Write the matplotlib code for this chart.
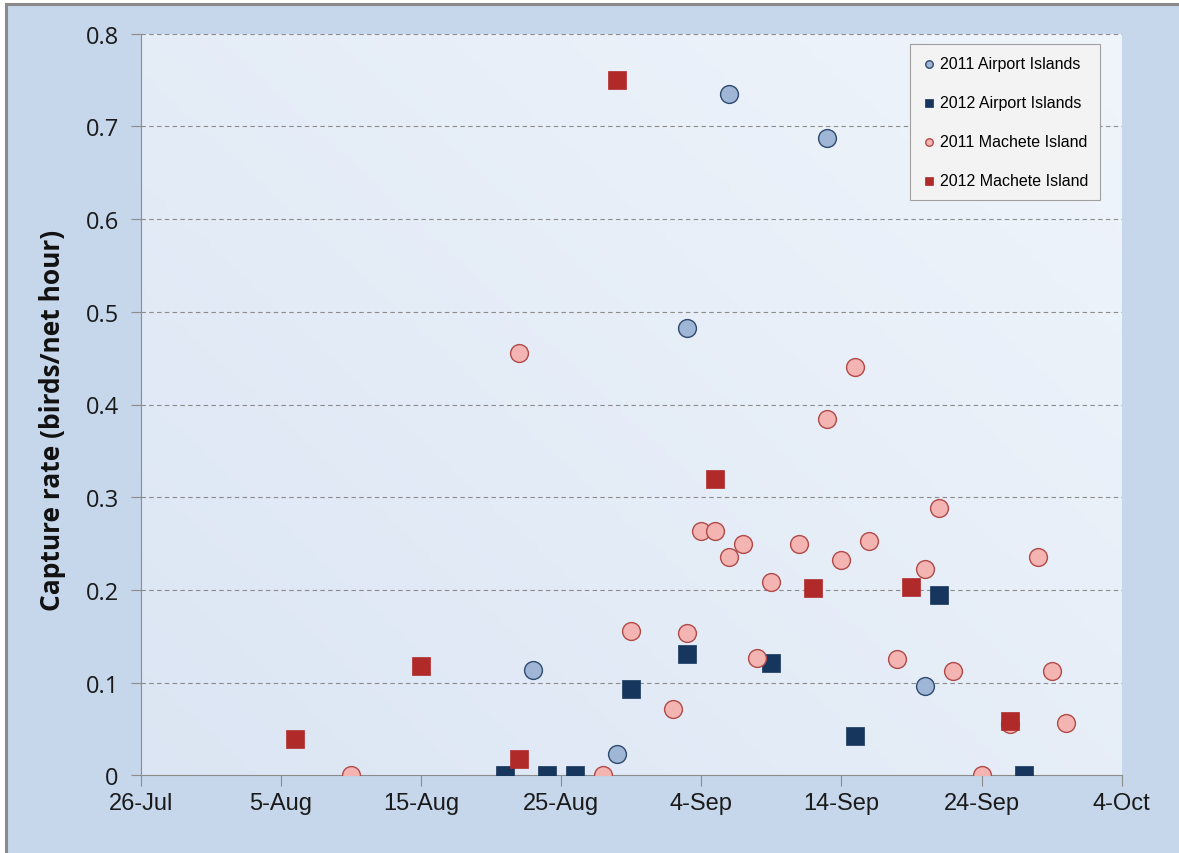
import numpy as np
import pandas as pd
import matplotlib
matplotlib.use("Agg")
import matplotlib.pyplot as plt
import matplotlib.dates as mdates
from matplotlib.patches import Rectangle

# Capture rates by date; both seasons share one calendar axis (year fixed to 2012)
air11_dates = ["08-23", "08-29", "09-03", "09-06", "09-13", "09-20"]
air11_rate = [0.114, 0.023, 0.483, 0.735, 0.687, 0.096]

air12_dates = ["08-21", "08-24", "08-26", "08-30", "09-03", "09-09",
               "09-15", "09-21", "09-27"]
air12_rate = [0.0, 0.0, 0.0, 0.093, 0.131, 0.121, 0.042, 0.194, 0.0]

mach11_dates = ["08-10", "08-22", "08-28", "08-30", "09-02", "09-03", "09-04",
                "09-05", "09-06", "09-07", "09-08", "09-09", "09-11", "09-13",
                "09-14", "09-15", "09-16", "09-18", "09-20", "09-21", "09-22",
                "09-24", "09-26", "09-28", "09-29", "09-30"]
mach11_rate = [0.0, 0.456, 0.0, 0.156, 0.072, 0.153, 0.264, 0.264, 0.236,
               0.249, 0.126, 0.209, 0.249, 0.384, 0.232, 0.440, 0.253, 0.125,
               0.223, 0.288, 0.112, 0.0, 0.055, 0.236, 0.112, 0.056]

mach12_dates = ["08-06", "08-15", "08-22", "08-29", "09-05", "09-12",
                "09-19", "09-26"]
mach12_rate = [0.039, 0.118, 0.018, 0.750, 0.320, 0.202, 0.203, 0.059]

x_ticks = ["07-26", "08-05", "08-15", "08-25", "09-04", "09-14", "09-24", "10-04"]
y_ticks = [0, 0.1, 0.2, 0.3, 0.4, 0.5, 0.6, 0.7, 0.8]


def to_dates(md):
    return pd.to_datetime(["2012-" + s for s in md])


W, H = 1179, 854
fig = plt.figure(figsize=(W / 100, H / 100), dpi=100, facecolor="white")

# chart area background with a thin grey frame on the top and left
fig.patches.append(Rectangle((6 / W, 0), 1 - 6 / W, 1 - 5 / H, transform=fig.transFigure,
                             facecolor="#c6d6eb", edgecolor="none", zorder=-10))
fig.add_artist(plt.Line2D([6 / W, 6 / W], [0, 1 - 5 / H], color="#8a8a8a", lw=2.2))
fig.add_artist(plt.Line2D([6 / W, 1], [1 - 5 / H, 1 - 5 / H], color="#8a8a8a", lw=2.2))

left, right = 141 / W, 1121.6 / W
bottom, top = 1 - 776.3 / H, 1 - 34.7 / H
ax = fig.add_axes([left, bottom, right - left, top - bottom])
ax.patch.set_alpha(0)

# soft gradient in the plot area
gy, gx = np.mgrid[0:1:200j, 0:1:200j]
grad = 0.55 * gx + 0.45 * (1 - gy)
c0 = np.array([0.86, 0.90, 0.955])
c1 = np.array([0.94, 0.96, 0.985])
img = c0[None, None, :] * (1 - grad[..., None]) + c1[None, None, :] * grad[..., None]
ax.imshow(img, extent=[0, 1, 0, 1], transform=ax.transAxes, aspect="auto",
          zorder=0, origin="upper")

ax.scatter(to_dates(air11_dates), air11_rate, s=165, marker="o", facecolor="#9fb6d6",
           edgecolor="#2e4a6e", linewidth=1.0, zorder=3, label="2011 Airport Islands")
ax.scatter(to_dates(air12_dates), air12_rate, s=150, marker="s", facecolor="#17365d",
           edgecolor="#17365d", linewidth=0.5, zorder=3, label="2012 Airport Islands")
ax.scatter(to_dates(mach11_dates), mach11_rate, s=165, marker="o", facecolor="#f4b4b2",
           edgecolor="#b04a48", linewidth=1.0, zorder=3, label="2011 Machete Island")
ax.scatter(to_dates(mach12_dates), mach12_rate, s=150, marker="s", facecolor="#b02a2a",
           edgecolor="#b02a2a", linewidth=0.5, zorder=4, label="2012 Machete Island")

ax.set_xlim(pd.Timestamp("2012-07-26"), pd.Timestamp("2012-10-04"))
ax.set_ylim(0, 0.8)
ax.set_xticks(to_dates(x_ticks))
ax.xaxis.set_major_formatter(mdates.DateFormatter("%-d-%b"))
ax.set_yticks(y_ticks)
ax.set_yticklabels(["0"] + [f"{v:.1f}" for v in y_ticks[1:]])

for v in y_ticks[1:]:
    ax.axhline(v, color="#8c8c8c", lw=0.8, ls=(0, (4, 3)), zorder=1)

for side in ["top", "right"]:
    ax.spines[side].set_visible(False)
ax.spines["left"].set_color("#8c8c8c")
ax.spines["bottom"].set_color("#8c8c8c")
ax.spines["left"].set_zorder(2)
ax.spines["bottom"].set_zorder(2)

ax.tick_params(axis="y", direction="out", length=7, color="#8c8c8c", pad=9,
               labelsize=17, labelcolor="#1a1a1a")
ax.tick_params(axis="x", direction="out", length=8, color="#8c8c8c", pad=4,
               labelsize=17, labelcolor="#1a1a1a")
for lab in ax.get_yticklabels():
    lab.set_fontfamily("Open Sans")
for lab in ax.get_xticklabels():
    lab.set_fontfamily("Liberation Sans")

ax.set_ylabel("Capture rate (birds/net hour)", fontsize=19, fontweight="bold",
              fontfamily="Open Sans", color="#111111")
ax.yaxis.set_label_coords(-0.0765, 0.48)

leg = ax.legend(loc="upper right", bbox_to_anchor=(0.978, 0.986), frameon=True,
                borderaxespad=0, fancybox=False, markerscale=0.42, handletextpad=0.2,
                labelspacing=1.5, borderpad=0.75, handlelength=0.9,
                prop={"family": ["Liberation Sans Narrow", "Liberation Sans"], "size": 11.5})
leg.get_frame().set_facecolor("#f3f3f3")
leg.get_frame().set_edgecolor("#a0a0a0")
leg.get_frame().set_linewidth(0.8)
leg.get_frame().set_alpha(1)
leg.set_zorder(6)

fig.savefig("out.png", dpi=100, facecolor=fig.get_facecolor())
